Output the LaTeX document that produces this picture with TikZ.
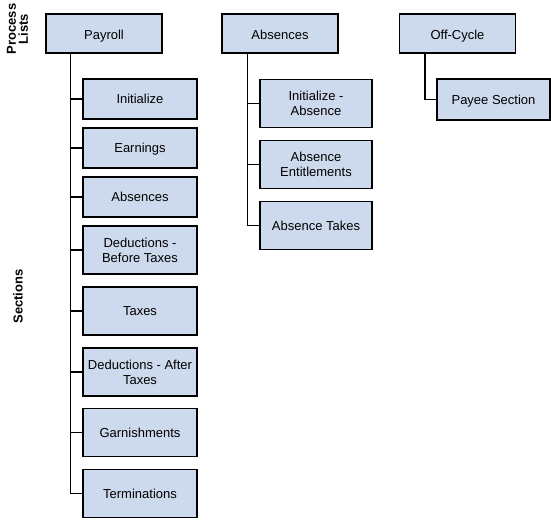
\documentclass[tikz,border=0pt]{standalone}
\usepackage{fontspec}
\setmainfont{Liberation Sans}
\definecolor{boxblue}{RGB}{205, 217, 236}
\usetikzlibrary{positioning}

\begin{document}
\begin{tikzpicture}[x=1pt, y=-1pt,
		procbox/.style={draw, line width=1.4pt, fill=boxblue, minimum width=116pt, minimum height=39pt, inner sep=1pt, align=center, text height=12.6pt, text depth=0pt, font=\fontsize{13}{15}\selectfont},
		secbox/.style={procbox, minimum width=114pt, minimum height=40pt, text height=11pt, text depth=1.7pt},
		tallbox/.style={secbox, minimum height=48pt},
		twoline/.style={text height={}, text depth={}},
		sidelabel/.style={rotate=90, align=center, font=\bfseries\fontsize{13}{12}\selectfont},
		link/.style={line width=1.4pt}]
			\useasboundingbox (0,0) rectangle (551,519);
			
			% process lists
			\node[procbox] (payroll) at (104,33.5) {Payroll};
			\node[procbox] (absences) at (280,33.5) {Absences};
			\node[procbox] (offcycle) at (457.5,33.5) {Off-Cycle};
			
			% sections of payroll
			\node[secbox] (init) at (140,99) {Initialize};
			\node[secbox] (earn) at (140,148) {Earnings};
			\node[secbox] (abs) at (140,197) {Absences};
			\node[tallbox, twoline] (dedb) at (140,250) {Deductions -\\Before Taxes};
			\node[tallbox] (tax) at (140,311) {Taxes};
			\node[tallbox, twoline] (deda) at (140,372) {Deductions - After\\Taxes};
			\node[tallbox] (garn) at (140,432.5) {Garnishments};
			\node[tallbox] (term) at (140,493.5) {Terminations};
			
			% sections of absences
			\node[tallbox, twoline, minimum width=112pt] (initabs) at (316,103.5) {Initialize -\\Absence};
			\node[tallbox, twoline, minimum width=112pt] (entitle) at (316,164.5) {Absence\\Entitlements};
			\node[tallbox, minimum width=112pt] (takes) at (316,225.5) {Absence Takes};
			
			% sections of off-cycle
			\node[secbox, minimum width=113pt, minimum height=41pt] (payee) at (493.5,99.5) {Payee Section};
			
			\node[sidelabel] (proclabel) at (17.5,29) {Process\\Lists};
			\node[sidelabel] (seclabel) at (18,296.5) {Sections};
			
			\coordinate (paytrunk) at ([xshift=25pt]payroll.south west);
			\coordinate (abstrunk) at ([xshift=26pt]absences.south west);
			\coordinate (offtrunk) at ([xshift=26pt]offcycle.south west);
			
			\foreach \child in {init,earn,abs,dedb,tax,deda,garn,term}
				\draw[link] (paytrunk) |- (\child.west);
			\foreach \child in {initabs,entitle,takes}
				\draw[link] (abstrunk) |- (\child.west);
			\draw[link] (offtrunk) |- (payee.west);
			
		\end{tikzpicture}
\end{document}
